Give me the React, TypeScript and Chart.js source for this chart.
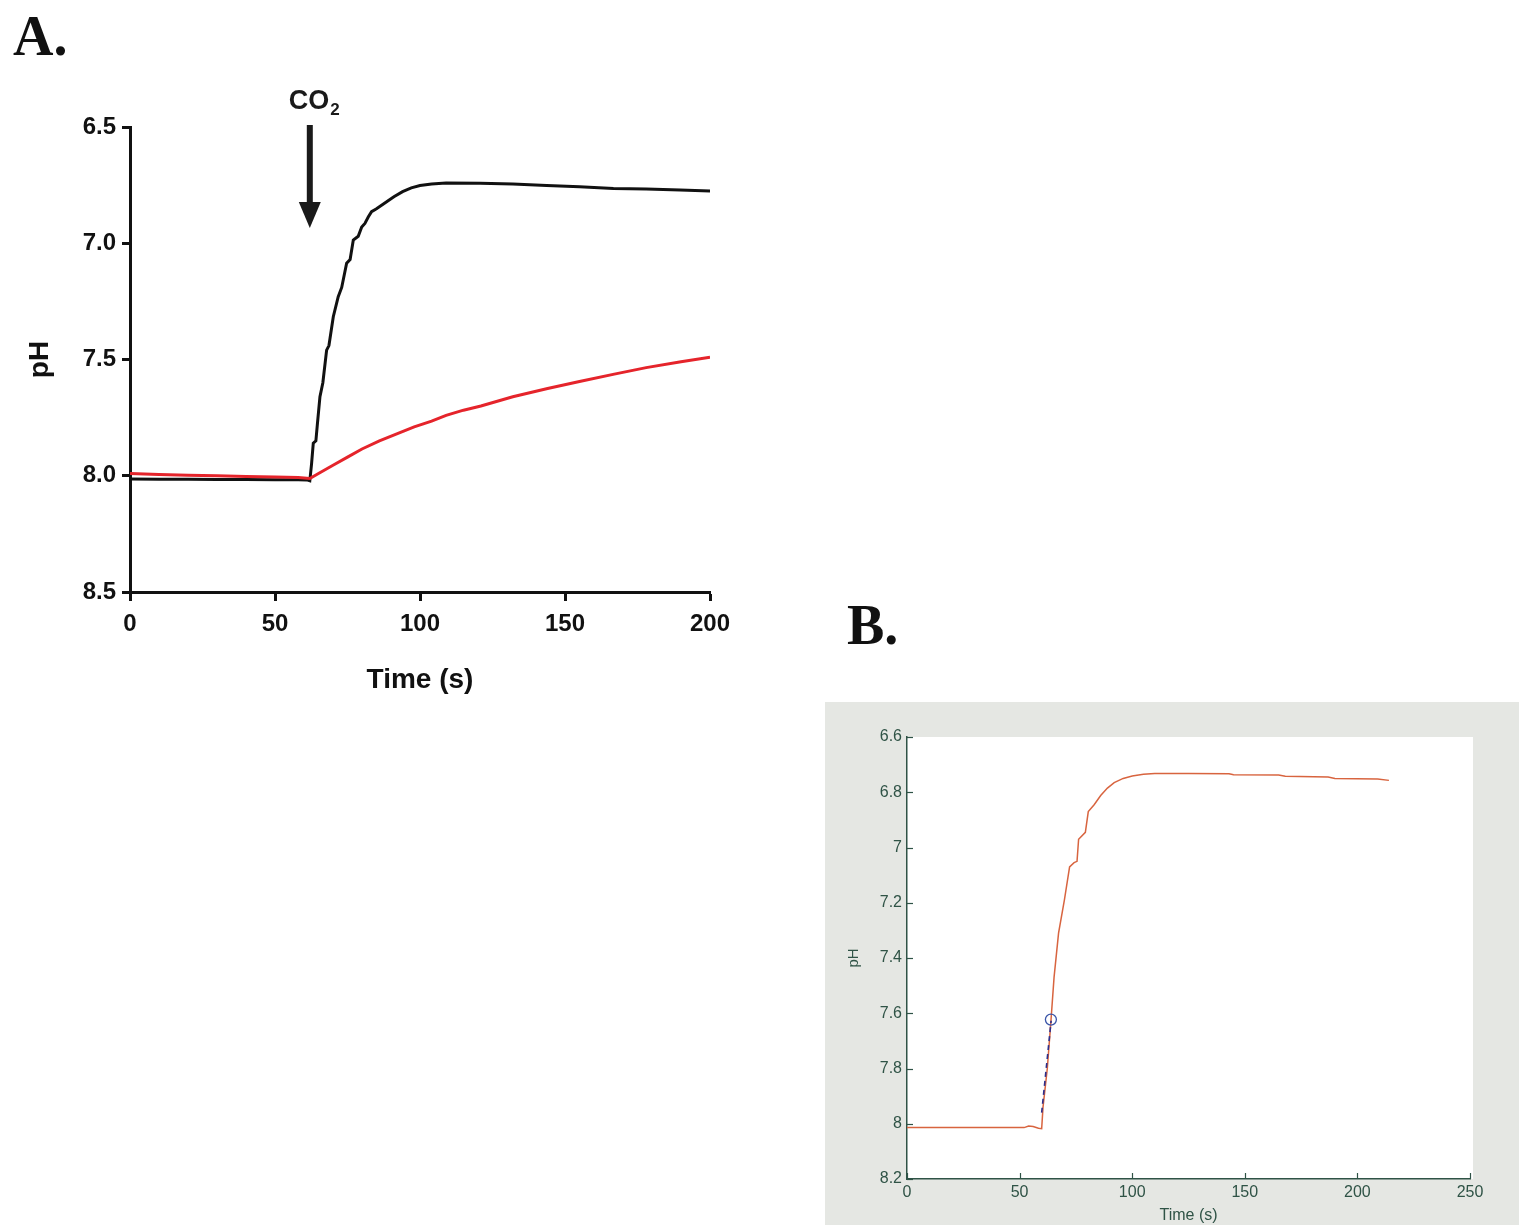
import React, { useEffect, useRef } from "react";
import { Chart, registerables } from "chart.js";

Chart.register(...registerables);

// ---------- Panel A data ----------
const aTimeTicks = [0, 50, 100, 150, 200];
const aPhTicks = [6.5, 7.0, 7.5, 8.0, 8.5];

const blackTime = [0, 10, 20, 30, 40, 50, 58, 61, 62, 62.6, 63.2, 64.1, 64.6, 65.5, 66.5, 67.8, 68.6, 70.1, 71.8, 73.0, 74.7, 75.9, 77.0, 78.7, 79.9, 81.0, 82.2, 83.3, 85, 88, 91, 94, 97, 100, 104, 109, 120.7, 132, 143.7, 155, 166.7, 178, 189.7, 200];
const blackPH = [8.014, 8.015, 8.015, 8.016, 8.016, 8.017, 8.017, 8.018, 8.022, 7.95, 7.86, 7.85, 7.78, 7.66, 7.6, 7.46, 7.44, 7.316, 7.23, 7.19, 7.086, 7.07, 6.986, 6.97, 6.93, 6.915, 6.886, 6.864, 6.852, 6.826, 6.8, 6.778, 6.762, 6.752, 6.745, 6.741, 6.742, 6.745, 6.752, 6.757, 6.764, 6.767, 6.771, 6.775];

const redTime = [0, 10, 20, 30, 40, 50, 58, 62, 65, 70, 75, 80, 86, 92, 98, 104, 109, 115, 121, 132, 144, 155, 167, 178, 190, 200];
const redPH = [7.99, 7.995, 7.998, 8.0, 8.003, 8.005, 8.008, 8.012, 7.99, 7.955, 7.92, 7.885, 7.85, 7.82, 7.79, 7.765, 7.74, 7.718, 7.7, 7.66, 7.625, 7.595, 7.563, 7.535, 7.51, 7.49];

const co2Time = 62;
const co2ArrowTopPH = 6.5;
const co2ArrowTipPH = 6.934;

// ---------- Panel B data ----------
const bTimeTicks = [0, 50, 100, 150, 200, 250];
const bPhTicks = [6.6, 6.8, 7.0, 7.2, 7.4, 7.6, 7.8, 8.0, 8.2];

const bTime = [0, 20, 40, 52, 54, 56, 58.4, 59.8, 60.4, 62.3, 63.9, 65.3, 67.3, 69.9, 72.2, 74.2, 75.5, 76.2, 79.2, 80.5, 83.1, 86, 89, 92, 96, 100, 105, 110, 125, 143, 145, 165, 168, 187, 190, 209, 214];
const bPH = [8.014, 8.014, 8.014, 8.014, 8.008, 8.01, 8.016, 8.018, 7.94, 7.8, 7.63, 7.47, 7.31, 7.19, 7.07, 7.055, 7.05, 6.97, 6.945, 6.87, 6.845, 6.812, 6.785, 6.765, 6.75, 6.741, 6.735, 6.732, 6.732, 6.733, 6.737, 6.738, 6.742, 6.745, 6.75, 6.752, 6.757];

const fitTime = [59.8, 64.0];
const fitPH = [7.96, 7.627];

const markerTime = [63.9];
const markerPH = [7.623];

const SANS = "'Liberation Sans', Arial, Helvetica, sans-serif";
const SERIF = "'Liberation Serif', 'Times New Roman', serif";
const B_GREEN = "#2f5346";

const pts = (xs: number[], ys: number[]) => xs.map((x, i) => ({ x, y: ys[i] }));

function PanelA() {
  const ref = useRef<HTMLCanvasElement | null>(null);
  useEffect(() => {
    if (!ref.current) return;
    const co2Plugin = {
      id: "co2Arrow",
      afterDraw(chart: any) {
        const { ctx, scales } = chart;
        const x = scales.x.getPixelForValue(co2Time);
        const yTop = scales.y.getPixelForValue(co2ArrowTopPH);
        const yTip = scales.y.getPixelForValue(co2ArrowTipPH);
        ctx.save();
        ctx.fillStyle = "#1a1a1a";
        ctx.fillRect(x - 3, yTop - 2, 6, yTip - yTop - 22);
        ctx.beginPath();
        ctx.moveTo(x - 11, yTip - 26);
        ctx.lineTo(x + 11, yTip - 26);
        ctx.lineTo(x, yTip);
        ctx.closePath();
        ctx.fill();
        ctx.font = `bold 27px ${SANS}`;
        const coW = ctx.measureText("CO").width;
        ctx.font = `bold 17px ${SANS}`;
        const subW = ctx.measureText("2").width;
        const start = x + 4 - (coW + subW) / 2;
        ctx.fillStyle = "#1a1a1a";
        ctx.textAlign = "left";
        ctx.textBaseline = "alphabetic";
        ctx.font = `bold 27px ${SANS}`;
        ctx.fillText("CO", start, yTop - 18);
        ctx.font = `bold 17px ${SANS}`;
        ctx.fillText("2", start + coW + 1, yTop - 12);
        ctx.restore();
      },
    };
    const chart = new Chart(ref.current, {
      type: "line",
      data: {
        datasets: [
          {
            label: "red",
            data: pts(redTime, redPH),
            borderColor: "#e5242b",
            borderWidth: 3,
            pointRadius: 0,
            tension: 0,
            fill: false,
          },
          {
            label: "black",
            data: pts(blackTime, blackPH),
            borderColor: "#111111",
            borderWidth: 3,
            pointRadius: 0,
            tension: 0,
            fill: false,
          },
        ],
      },
      options: {
        responsive: false,
        animation: false,
        layout: { padding: { left: 0, top: 67, right: 60, bottom: 0 } },
        plugins: { legend: { display: false }, tooltip: { enabled: false } },
        scales: {
          x: {
            type: "linear",
            min: 0,
            max: 200,
            afterBuildTicks: (s: any) => {
              s.ticks = aTimeTicks.map((v) => ({ value: v }));
            },
            ticks: {
              color: "#111",
              font: { family: SANS, size: 24, weight: "bold" },
              padding: 9,
              maxRotation: 0,
              autoSkip: false,
              callback: (v: any) => String(v),
            },
            grid: {
              display: true,
              drawOnChartArea: false,
              drawTicks: true,
              tickLength: 9,
              tickWidth: 3,
              tickColor: "#111",
            },
            border: { display: true, width: 3, color: "#111" },
            title: {
              display: true,
              text: "Time (s)",
              color: "#111",
              font: { family: SANS, size: 28, weight: "bold" },
              padding: { top: 0, bottom: 23 },
            },
            afterFit: (s: any) => {
              s.height = 128;
            },
          },
          y: {
            type: "linear",
            reverse: true,
            min: 6.5,
            max: 8.5,
            afterBuildTicks: (s: any) => {
              s.ticks = aPhTicks.map((v) => ({ value: v }));
            },
            ticks: {
              color: "#111",
              font: { family: SANS, size: 24, weight: "bold" },
              padding: 6,
              autoSkip: false,
              callback: (v: any) => Number(v).toFixed(1),
            },
            grid: {
              display: true,
              drawOnChartArea: false,
              drawTicks: true,
              tickLength: 8,
              tickWidth: 3,
              tickColor: "#111",
            },
            border: { display: true, width: 3, color: "#111" },
            title: {
              display: true,
              text: "pH",
              color: "#111",
              font: { family: SANS, size: 28, weight: "bold" },
              padding: { top: 23, bottom: 0 },
            },
            afterFit: (s: any) => {
              s.width = 130;
            },
          },
        },
      } as any,
      plugins: [co2Plugin],
    });
    return () => chart.destroy();
  }, []);
  return (
    <div style={{ position: "absolute", left: 0, top: 60, width: 770, height: 660 }}>
      <canvas ref={ref} width={770} height={660} style={{ display: "block" }} />
    </div>
  );
}

function PanelB() {
  const ref = useRef<HTMLCanvasElement | null>(null);
  useEffect(() => {
    if (!ref.current) return;
    const whiteArea = {
      id: "whiteArea",
      beforeDraw(chart: any) {
        const { ctx, chartArea } = chart;
        ctx.save();
        ctx.fillStyle = "#ffffff";
        ctx.fillRect(chartArea.left, chartArea.top, chartArea.right - chartArea.left + 3, chartArea.bottom - chartArea.top);
        ctx.restore();
      },
    };
    const innerTicks = {
      id: "innerTicks",
      afterDraw(chart: any) {
        const { ctx, chartArea, scales } = chart;
        ctx.save();
        ctx.strokeStyle = B_GREEN;
        ctx.lineWidth = 1.2;
        scales.x.ticks.forEach((t: any) => {
          const px = Math.round(scales.x.getPixelForValue(t.value)) + 0.5;
          ctx.beginPath();
          ctx.moveTo(px, chartArea.bottom);
          ctx.lineTo(px, chartArea.bottom - 6);
          ctx.stroke();
        });
        scales.y.ticks.forEach((t: any) => {
          const py = Math.round(scales.y.getPixelForValue(t.value)) + 0.5;
          ctx.beginPath();
          ctx.moveTo(chartArea.left, py);
          ctx.lineTo(chartArea.left + 6, py);
          ctx.stroke();
        });
        ctx.restore();
      },
    };
    const chart = new Chart(ref.current, {
      type: "line",
      data: {
        datasets: [
          {
            label: "marker",
            data: pts(markerTime, markerPH),
            showLine: false,
            pointRadius: 5.5,
            pointBorderWidth: 1.3,
            pointBorderColor: "#3a55a8",
            pointBackgroundColor: "rgba(0,0,0,0)",
          },
          {
            label: "fit",
            data: pts(fitTime, fitPH),
            borderColor: "#2c2f8c",
            borderWidth: 1.6,
            borderDash: [5, 4],
            pointRadius: 0,
            tension: 0,
          },
          {
            label: "pH",
            data: pts(bTime, bPH),
            borderColor: "#d8643f",
            borderWidth: 1.5,
            pointRadius: 0,
            tension: 0,
          },
        ],
      },
      options: {
        responsive: false,
        animation: false,
        layout: { padding: { left: 0, top: 35, right: 49, bottom: 0 } },
        plugins: { legend: { display: false }, tooltip: { enabled: false } },
        scales: {
          x: {
            type: "linear",
            min: 0,
            max: 250,
            afterBuildTicks: (s: any) => {
              s.ticks = bTimeTicks.map((v) => ({ value: v }));
            },
            ticks: {
              color: B_GREEN,
              font: { family: SANS, size: 16 },
              padding: 4,
              maxRotation: 0,
              autoSkip: false,
              callback: (v: any) => String(v),
            },
            grid: { display: false, drawTicks: false },
            border: { display: true, width: 1.5, color: B_GREEN },
            title: {
              display: true,
              text: "Time (s)",
              color: B_GREEN,
              font: { family: SANS, size: 16 },
              padding: { top: 0, bottom: 0 },
            },
            afterFit: (s: any) => {
              s.height = 46;
            },
          },
          y: {
            type: "linear",
            reverse: true,
            min: 6.6,
            max: 8.2,
            afterBuildTicks: (s: any) => {
              s.ticks = bPhTicks.map((v) => ({ value: v }));
            },
            ticks: {
              color: B_GREEN,
              font: { family: SANS, size: 16 },
              padding: 5,
              autoSkip: false,
              callback: (v: any) => String(Math.round(Number(v) * 10) / 10),
            },
            grid: { display: false, drawTicks: false },
            border: { display: true, width: 1.5, color: B_GREEN },
            title: {
              display: true,
              text: "pH",
              color: B_GREEN,
              font: { family: SANS, size: 15 },
              padding: { top: 20, bottom: 0 },
            },
            afterFit: (s: any) => {
              s.width = 82;
            },
          },
        },
      } as any,
      plugins: [whiteArea, innerTicks],
    });
    return () => chart.destroy();
  }, []);
  return (
    <div style={{ position: "absolute", left: 825, top: 702, width: 694, height: 523, background: "#e5e7e3" }}>
      <canvas ref={ref} width={694} height={523} style={{ display: "block" }} />
    </div>
  );
}

export default function App() {
  return (
    <div
      style={{
        position: "absolute",
        left: 0,
        top: 0,
        width: 1519,
        height: 1225,
        background: "#ffffff",
        overflow: "hidden",
      }}
    >
      <div
        style={{
          position: "absolute",
          left: 13,
          top: 8,
          fontFamily: SERIF,
          fontWeight: "bold",
          fontSize: 56,
          lineHeight: "56px",
          color: "#111",
        }}
      >
        A.
      </div>
      <div
        style={{
          position: "absolute",
          left: 847,
          top: 597,
          fontFamily: SERIF,
          fontWeight: "bold",
          fontSize: 56,
          lineHeight: "56px",
          color: "#111",
        }}
      >
        B.
      </div>
      <PanelA />
      <PanelB />
    </div>
  );
}
